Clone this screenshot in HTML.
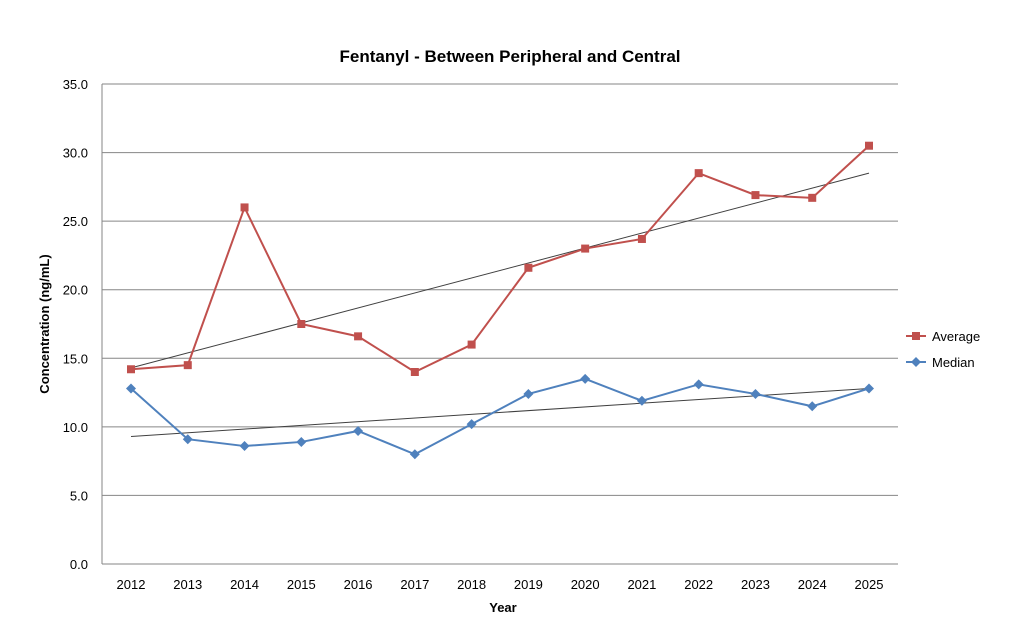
<!DOCTYPE html>
<html><head><meta charset="utf-8"><style>
html,body{margin:0;padding:0;background:#fff;}
svg{display:block;font-family:"Liberation Sans",sans-serif;}
</style></head><body>
<svg id="c" width="1024" height="636" viewBox="0 0 1024 636" xmlns="http://www.w3.org/2000/svg">
<rect width="1024" height="636" fill="#fff"/>
<text x="510" y="62" text-anchor="middle" font-size="17" font-weight="bold">Fentanyl - Between Peripheral and Central</text>
<text x="503" y="612" text-anchor="middle" font-size="13" font-weight="bold">Year</text>
<text transform="translate(49,324) rotate(-90)" text-anchor="middle" font-size="13" font-weight="bold">Concentration (ng/mL)</text>
<g id="g"></g>
<rect x="912" y="332" width="8" height="8" fill="#c0504d"/>
<line x1="906" y1="336" x2="926" y2="336" stroke="#c0504d" stroke-width="2"/>
<text x="932" y="341" font-size="13">Average</text>
<line x1="906" y1="362" x2="926" y2="362" stroke="#4f81bd" stroke-width="2"/>
<path d="M916 357 L921 362 L916 367 L911 362Z" fill="#4f81bd"/>
<text x="932" y="367" font-size="13">Median</text>
</svg>
<script>
var g=document.getElementById('g'),s='';
function Y(v){return 564-v*480/35;}
function X(i){return 131+i*(738/13);}
for(var k=0;k<=7;k++){var y=Y(k*5);s+='<line x1="102" x2="898" y1="'+y+'" y2="'+y+'" stroke="#868686" stroke-width="1"/>';
s+='<text x="88" y="'+(y+5)+'" text-anchor="end" font-size="13">'+(k*5).toFixed(1)+'</text>';}
s+='<line x1="102" x2="102" y1="84" y2="564" stroke="#868686"/>';
for(var i=0;i<14;i++){s+='<text x="'+X(i)+'" y="589" text-anchor="middle" font-size="13">'+(2012+i)+'</text>';}
var a=[14.2,14.5,26.0,17.5,16.6,14.0,16.0,21.6,23.0,23.7,28.5,26.9,26.7,30.5];
var m=[12.8,9.1,8.6,8.9,9.7,8.0,10.2,12.4,13.5,11.9,13.1,12.4,11.5,12.8];
s+='<line x1="'+X(0)+'" y1="'+Y(14.3)+'" x2="'+X(13)+'" y2="'+Y(28.5)+'" stroke="#404040" stroke-width="1"/>';
s+='<line x1="'+X(0)+'" y1="'+Y(9.3)+'" x2="'+X(13)+'" y2="'+Y(12.8)+'" stroke="#404040" stroke-width="1"/>';
function pl(d,c){return '<polyline fill="none" stroke="'+c+'" stroke-width="2" points="'+d.map(function(v,i){return X(i)+','+Y(v)}).join(' ')+'"/>';}
s+=pl(a,'#c0504d');s+=pl(m,'#4f81bd');
a.forEach(function(v,i){s+='<rect x="'+(X(i)-4)+'" y="'+(Y(v)-4)+'" width="8" height="8" fill="#c0504d"/>';});
m.forEach(function(v,i){var x=X(i),y=Y(v);s+='<path d="M'+x+' '+(y-5)+' L'+(x+5)+' '+y+' L'+x+' '+(y+5)+' L'+(x-5)+' '+y+'Z" fill="#4f81bd"/>';});
g.innerHTML=s;
</script>
</body></html>
